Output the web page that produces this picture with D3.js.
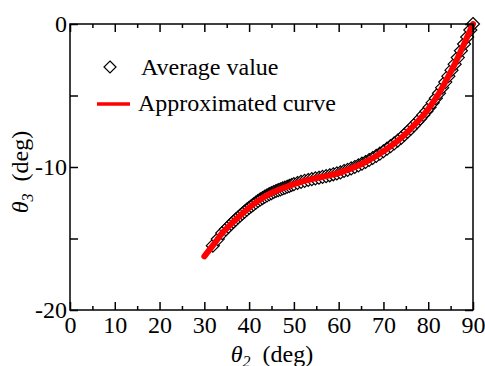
<!DOCTYPE html>
<html>
<head>
<meta charset="utf-8">
<script src="https://cdn.jsdelivr.net/npm/d3@7"></script>
<style>
	body { margin: 0; background: #fff; }
	svg { display: block; font-family: 'Liberation Serif', 'Times New Roman', serif; }
</style>
</head>
<body>
<svg id="chart" width="485" height="366"></svg>
<script>

// averaged measurement points (theta2, theta3)
var aAvgTheta2 = [31.9, 33.0, 34.0, 34.8, 35.4, 36.0, 36.5, 37.0, 37.5, 38.0, 38.5, 39.0, 39.5, 40.0, 40.5,
	41.0, 41.5, 42.0, 42.5, 43.0, 43.5, 44.0, 44.5, 45.0, 45.5, 46.0, 46.5, 47.0, 47.5, 48.0, 48.5, 49.0, 49.5, 50.0,
	50.8, 51.6, 52.4, 53.2, 54.0, 54.8, 55.6, 56.4, 57.2, 58.0, 58.8, 59.6, 60.4, 61.2, 62.0, 62.8, 63.6, 64.4,
	65.2, 66.0, 66.8, 67.6, 68.4, 69.2, 70.0, 70.8, 71.6, 72.4, 73.2, 74.0, 74.7, 75.4, 76.1, 76.8, 77.5, 78.2,
	78.9, 79.6, 80.3, 81.0, 81.7, 82.4, 83.1, 83.8, 84.5, 85.2, 85.9, 86.6, 87.3, 88.0, 88.7, 89.4, 90.0];

var aAvgTheta3 = [-15.5, -15.04, -14.62, -14.36, -14.17, -13.98, -13.83, -13.68, -13.53, -13.39, -13.25, -13.12, -12.98, -12.85, -12.73,
	-12.61, -12.49, -12.37, -12.27, -12.17, -12.07, -11.98, -11.9, -11.83, -11.75, -11.68, -11.62, -11.56, -11.5, -11.44, -11.38, -11.32, -11.26, -11.2,
	-11.12, -11.04, -10.97, -10.91, -10.85, -10.8, -10.75, -10.69, -10.64, -10.58, -10.51, -10.45, -10.38, -10.28, -10.2, -10.1, -10.0, -9.89,
	-9.77, -9.65, -9.51, -9.37, -9.22, -9.06, -8.9, -8.72, -8.54, -8.35, -8.15, -7.95, -7.74, -7.53, -7.32, -7.09, -6.86, -6.62,
	-6.36, -6.1, -5.82, -5.5, -5.19, -4.84, -4.45, -4.06, -3.65, -3.23, -2.81, -2.35, -1.87, -1.4, -0.91, -0.42, 0.0];

// approximated curve
var aFitTheta2 = [30, 32, 34, 36, 38, 40, 42, 44, 46, 48, 50, 52, 54, 56, 58, 60, 62, 64, 66, 68, 70, 72, 74, 76, 78, 80, 82, 84, 86, 88, 90];
var aFitTheta3 = [-16.25, -15.45, -14.62, -13.98, -13.39, -12.85, -12.37, -11.98, -11.68, -11.43, -11.2, -11.0, -10.85, -10.72, -10.58, -10.42,
	-10.2, -9.95, -9.65, -9.3, -8.9, -8.45, -7.95, -7.35, -6.7, -5.95, -5.05, -3.95, -2.75, -1.4, 0.0];

var aXTicks = [0, 10, 20, 30, 40, 50, 60, 70, 80, 90];
var aYTicks = [0, -10, -20];
var aXMinor = [5, 15, 25, 35, 45, 55, 65, 75, 85];
var aYMinor = [-5, -15];

var aLegend = ['Average value', 'Approximated curve'];

var sSvg = d3.select('#chart');

const nLeft = 70;
const nRight = 473;
const nTop = 24;
const nBottom = 310;
const strFont = '24px';

var xScale = d3.scaleLinear().domain([0, 90]).range([nLeft, nRight]);
var yScale = d3.scaleLinear().domain([-20, 0]).range([nBottom, nTop]);

var aAvg = aAvgTheta2.map(function(x, i) { return { x: x, y: aAvgTheta3[i] }; });
var aFit = aFitTheta2.map(function(x, i) { return { x: x, y: aFitTheta3[i] }; });

function DiamondPath(cx, cy, r)
{
	return 'M' + cx + ',' + (cy - r) + 'L' + (cx + r) + ',' + cy + 'L' + cx + ',' + (cy + r) + 'L' + (cx - r) + ',' + cy + 'Z';
}

// markers
sSvg.append('g')
	.selectAll('path')
	.data(aAvg)
	.enter()
		.append('path')
			.attr('d', function(d) { return DiamondPath(xScale(d.x), yScale(d.y), 6.5); })
			.attr('fill', '#fff')
			.attr('stroke', '#000')
			.attr('stroke-width', 1.2);

// fitted line on top
var lineFit = d3.line()
	.x(function(d) { return xScale(d.x); })
	.y(function(d) { return yScale(d.y); })
	.curve(d3.curveCatmullRom);

sSvg.append('path')
	.datum(aFit)
	.attr('d', lineFit)
	.attr('fill', 'none')
	.attr('stroke', '#ff0000')
	.attr('stroke-width', 6)
	.attr('stroke-linecap', 'round');

// frame
sSvg.append('rect')
	.attr('x', nLeft)
	.attr('y', nTop)
	.attr('width', nRight - nLeft)
	.attr('height', nBottom - nTop)
	.attr('fill', 'none')
	.attr('stroke', '#000')
	.attr('stroke-width', 1.5);

// ticks, inward on all four sides
var fmtPlain = function(d) { return String(d); };
var xAxisBottom = d3.axisBottom(xScale).tickValues(aXTicks).tickSizeInner(-8).tickSizeOuter(0).tickPadding(6).tickFormat(fmtPlain);
var xAxisTop = d3.axisTop(xScale).tickValues(aXTicks).tickSizeInner(-8).tickSizeOuter(0).tickFormat('');
var yAxisLeft = d3.axisLeft(yScale).tickValues(aYTicks).tickSizeInner(-8).tickSizeOuter(0).tickPadding(3).tickFormat(fmtPlain);
var yAxisRight = d3.axisRight(yScale).tickValues(aYTicks).tickSizeInner(-8).tickSizeOuter(0).tickFormat('');

var xMinorBottom = d3.axisBottom(xScale).tickValues(aXMinor).tickSizeInner(-4).tickSizeOuter(0).tickFormat('');
var xMinorTop = d3.axisTop(xScale).tickValues(aXMinor).tickSizeInner(-4).tickSizeOuter(0).tickFormat('');
var yMinorLeft = d3.axisLeft(yScale).tickValues(aYMinor).tickSizeInner(-8).tickSizeOuter(0).tickFormat('');
var yMinorRight = d3.axisRight(yScale).tickValues(aYMinor).tickSizeInner(-8).tickSizeOuter(0).tickFormat('');

function DrawAxis(axis, strTransform)
{
	var sAxis = sSvg.append('g')
		.attr('transform', strTransform)
		.call(axis);
	sAxis.select('.domain').remove();
	sAxis.selectAll('line').attr('stroke', '#000').attr('stroke-width', 1.5);
	sAxis.selectAll('text')
		.attr('fill', '#000')
		.style('font-family', "'Liberation Serif', serif")
		.style('font-size', strFont);
	return sAxis;
}

DrawAxis(xAxisBottom, 'translate(0,' + nBottom + ')');
DrawAxis(xAxisTop, 'translate(0,' + nTop + ')');
DrawAxis(yAxisLeft, 'translate(' + nLeft + ',0)');
DrawAxis(yAxisRight, 'translate(' + nRight + ',0)');
DrawAxis(xMinorBottom, 'translate(0,' + nBottom + ')');
DrawAxis(xMinorTop, 'translate(0,' + nTop + ')');
DrawAxis(yMinorLeft, 'translate(' + nLeft + ',0)');
DrawAxis(yMinorRight, 'translate(' + nRight + ',0)');

// axis titles
var sXTitle = sSvg.append('text')
	.attr('x', 272)
	.attr('y', 362)
	.attr('text-anchor', 'middle')
	.style('font-size', strFont);
sXTitle.append('tspan').style('font-style', 'italic').text('\u03B8');
sXTitle.append('tspan').style('font-style', 'italic').style('font-size', '16px').attr('dy', 5).text('2');
sXTitle.append('tspan').attr('dy', -5).text('\u00A0 (deg)');

var sYTitle = sSvg.append('text')
	.attr('transform', 'translate(28,172) rotate(-90)')
	.attr('text-anchor', 'middle')
	.style('font-size', strFont);
sYTitle.append('tspan').style('font-style', 'italic').text('\u03B8');
sYTitle.append('tspan').style('font-style', 'italic').style('font-size', '16px').attr('dy', 5).text('3');
sYTitle.append('tspan').attr('dy', -5).text('\u00A0 (deg)');

// legend
var sLegend = sSvg.append('g');

sLegend.append('path')
	.attr('d', DiamondPath(110, 67, 6))
	.attr('fill', '#fff')
	.attr('stroke', '#000')
	.attr('stroke-width', 1.2);

sLegend.append('text')
	.attr('x', 141)
	.attr('y', 75)
	.style('font-size', strFont)
	.text(aLegend[0]);

sLegend.append('line')
	.attr('x1', 97)
	.attr('x2', 130)
	.attr('y1', 104)
	.attr('y2', 104)
	.attr('stroke', '#ff0000')
	.attr('stroke-width', 3.5);

sLegend.append('text')
	.attr('x', 138)
	.attr('y', 111)
	.style('font-size', strFont)
	.text(aLegend[1]);

</script>
</body>
</html>
